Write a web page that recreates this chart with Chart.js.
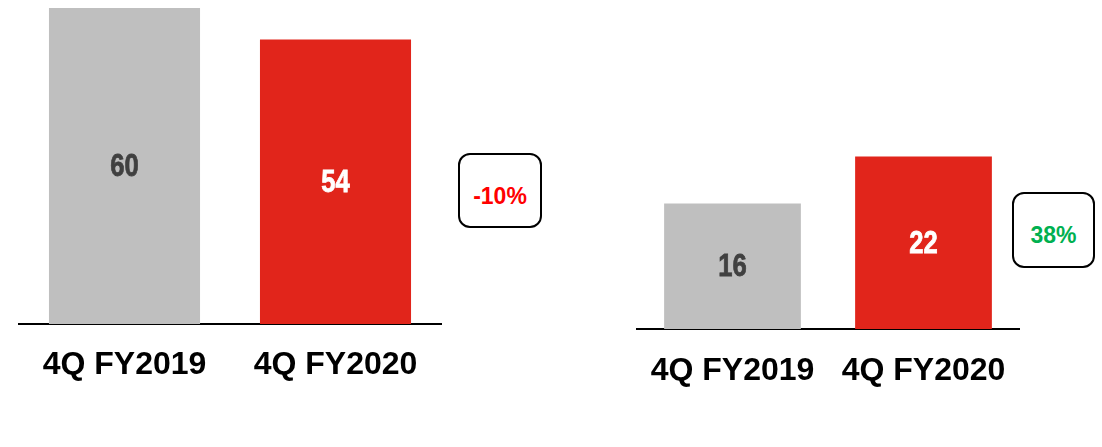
<!DOCTYPE html>
<html>
<head>
<meta charset="utf-8">
<script src="https://cdn.jsdelivr.net/npm/chart.js@4"></script>
<style>
  body { margin: 0; background: #fff; }
  #wrap { position: relative; width: 1102px; height: 447px; overflow: hidden; }
  canvas { position: absolute; left: 0; top: 0; }
  .change {
    position: absolute; box-sizing: border-box;
    border: 2.5px solid #000; border-radius: 12px; background: #fff;
    font: bold 23px "Liberation Sans", Arial, sans-serif;
    display: flex; align-items: center; justify-content: center;
  }
</style>
</head>
<body>
<div id="wrap">
  <canvas id="left" width="1102" height="447"></canvas>
  <canvas id="right" width="1102" height="447"></canvas>
  <div class="change" id="chgLeft" style="left:458px;top:153px;width:84px;height:75px;padding-top:12px;color:#FF0000;"></div>
  <div class="change" id="chgRight" style="left:1012px;top:192px;width:83px;height:76px;padding-top:11px;color:#00B050;"></div>
</div>
<script>
// Data
const categories = ['4Q FY2019', '4Q FY2020'];
const leftValues = [60, 54];
const rightValues = [16, 22];
const changeLabels = ['-10%', '38%'];

const barColors = ['#BFBFBF', '#E1251B'];
const valueColors = ['#404040', '#FFFFFF'];

document.getElementById('chgLeft').textContent = changeLabels[0];
document.getElementById('chgRight').textContent = changeLabels[1];

// draws the value in the middle of each bar, narrow bold font
const barValues = {
  id: 'barValues',
  afterDatasetsDraw(chart) {
    const ctx = chart.ctx;
    const meta = chart.getDatasetMeta(0);
    const data = chart.data.datasets[0].data;
    meta.data.forEach((bar, i) => {
      const cx = bar.x;
      const cy = (bar.y + bar.base) / 2;
      ctx.save();
      ctx.translate(cx, cy);
      ctx.scale(0.8, 1);
      ctx.font = 'bold 32px "Liberation Sans", Arial, sans-serif';
      ctx.fillStyle = valueColors[i];
      ctx.strokeStyle = valueColors[i];
      ctx.lineWidth = 0.8;
      ctx.textAlign = 'center';
      ctx.textBaseline = 'middle';
      ctx.fillText(String(data[i]), 0, 1);
      ctx.strokeText(String(data[i]), 0, 1);
      ctx.restore();
    });
  }
};

function makeChart(id, values, yMax, pad, axisHeight, tickPad) {
  return new Chart(document.getElementById(id), {
    type: 'bar',
    data: {
      labels: categories,
      datasets: [{
        data: values,
        backgroundColor: barColors,
        borderWidth: 0,
        categoryPercentage: 1,
        barPercentage: 0.716
      }]
    },
    options: {
      responsive: false,
      animation: false,
      layout: { padding: pad },
      plugins: { legend: { display: false }, tooltip: { enabled: false } },
      scales: {
        x: {
          grid: { display: false, drawTicks: false },
          border: { display: true, color: '#000', width: 2 },
          ticks: {
            color: '#000',
            padding: tickPad,
            font: { family: '"Liberation Sans", Arial, sans-serif', size: 32, weight: 'bold' }
          },
          afterFit(scale) { scale.height = axisHeight; }
        },
        y: { display: false, min: 0, max: yMax }
      }
    },
    plugins: [barValues]
  });
}

makeChart('left', leftValues, 61.52, { left: 19, right: 661, top: 0, bottom: 0 }, 123, 22);
makeChart('right', rightValues, 41.96, { left: 637, right: 83, top: 0, bottom: 0 }, 118, 23);
</script>
</body>
</html>
